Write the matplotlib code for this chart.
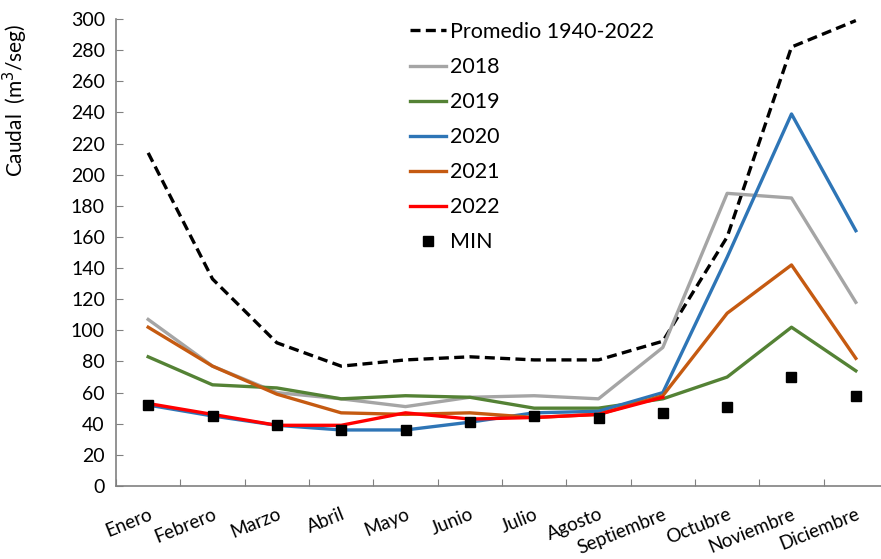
import matplotlib
matplotlib.use("Agg")
import matplotlib.pyplot as plt
import numpy as np

plt.rcParams['font.family'] = ['Lato', 'DejaVu Sans']

months = ["Enero", "Febrero", "Marzo", "Abril", "Mayo", "Junio", "Julio",
          "Agosto", "Septiembre", "Octubre", "Noviembre", "Diciembre"]
promedio = [214, 133, 92, 77, 81, 83, 81, 81, 93, 160, 282, 299]
y2018 = [107, 77, 60, 56, 51, 57, 58, 56, 89, 188, 185, 118]
y2019 = [83, 65, 63, 56, 58, 57, 50, 50, 56, 70, 102, 74]
y2020 = [52, 45, 39, 36, 36, 41, 47, 48, 60, 147, 239, 164]
y2021 = [102, 77, 59, 47, 46, 47, 44, 46, 58, 111, 142, 82]
y2022 = [53, 46, 39, 39, 47, 43, 44, 46, 57]
minimo = [52, 45, 39, 36, 36, 41, 45, 44, 47, 51, 70, 58]
yticks = list(range(0, 301, 20))

fig = plt.figure(figsize=(8.81, 5.59), dpi=100)
ax = fig.add_axes([116/881, 1-486/559, (888-116)/881, (486-19)/559])

x = np.arange(len(months))
lw = 2.4
ax.plot(x, promedio, color='black', lw=2.4, ls=(0, (3, 1.6)), label='Promedio 1940-2022')
ax.plot(x, y2018, color='#a5a5a5', lw=lw, label='2018')
ax.plot(x, y2019, color='#548235', lw=lw, label='2019')
ax.plot(x, y2020, color='#2e75b6', lw=lw, label='2020')
ax.plot(x, y2021, color='#c55a11', lw=lw, label='2021')
ax.plot(x[:len(y2022)], y2022, color='#ff0000', lw=lw, label='2022')
ax.plot(x, minimo, ls='none', marker='s', ms=7, color='black', label='MIN')

ax.set_xlim(-0.5, len(months) - 0.5)
ax.set_ylim(0, 300)
ax.set_yticks(yticks)
ax.tick_params(axis='y', labelsize=14, direction='in', length=5, color='#808080', pad=8)
ax.set_xticks(np.arange(-0.5, len(months), 1))
ax.set_xticklabels([])
ax.set_xticks(x, minor=True)
ax.set_xticklabels(months, minor=True, rotation=22, ha='right', va='top',
                   rotation_mode='anchor', fontsize=13.5)
ax.tick_params(axis='x', which='major', direction='in', length=5, color='#808080')
ax.tick_params(axis='x', which='minor', length=0, pad=14)
for s in ['top', 'right']:
    ax.spines[s].set_visible(False)
for s in ['left', 'bottom']:
    ax.spines[s].set_color('#808080')
    ax.spines[s].set_linewidth(1.2)

ax.set_ylabel('Caudal  (m$^3$/seg)', fontsize=15)
ax.yaxis.set_label_coords((30-116)/772, (486-100)/467)

leg = ax.legend(loc='upper left', bbox_to_anchor=(410/881, 1-22/559), bbox_transform=fig.transFigure,
                frameon=False, fontsize=15.5, handlelength=1.65, handletextpad=0.2,
                labelspacing=0.7, borderaxespad=0, borderpad=0)

fig.savefig('out.png', dpi=100)
